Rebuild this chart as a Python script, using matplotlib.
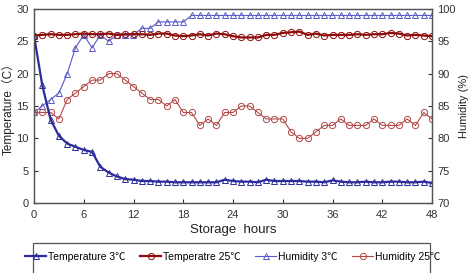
import matplotlib.pyplot as plt
from matplotlib.patches import Rectangle

plt.rcParams['font.family'] = ['Liberation Sans', 'Noto Sans CJK SC', 'DejaVu Sans']

HOURS = list(range(49))

TEMP_3 = [25.9, 18.2, 12.9, 10.4, 9.2, 8.7, 8.2, 7.9, 5.6, 4.7, 4.1, 3.7, 3.6, 3.4, 3.4,
          3.3, 3.3, 3.2, 3.2, 3.2, 3.2, 3.2, 3.2, 3.6, 3.4, 3.3, 3.3, 3.2, 3.6, 3.4, 3.4,
          3.4, 3.4, 3.3, 3.3, 3.2, 3.5, 3.3, 3.2, 3.2, 3.3, 3.2, 3.2, 3.3, 3.3, 3.2, 3.2,
          3.3, 3.1]
TEMP_25 = [25.9, 26.0, 26.1, 26.0, 26.0, 26.1, 26.2, 26.1, 26.1, 26.2, 26.0, 26.1, 26.1,
           26.1, 26.0, 26.2, 26.2, 25.9, 25.8, 25.9, 26.1, 25.9, 26.2, 26.1, 25.8, 25.6,
           25.6, 25.6, 26.0, 26.0, 26.3, 26.4, 26.5, 26.0, 26.2, 25.9, 26.0, 26.0, 26.0,
           26.1, 26.0, 26.1, 26.1, 26.3, 26.2, 25.9, 26.0, 25.9, 25.8]
HUM_3 = [84, 85, 86, 87, 90, 94, 96, 94, 96, 95, 96, 96, 96, 97, 97, 98, 98, 98, 98,
         99, 99, 99, 99, 99, 99, 99, 99, 99, 99, 99, 99, 99, 99, 99, 99, 99, 99, 99, 99,
         99, 99, 99, 99, 99, 99, 99, 99, 99, 99]
HUM_25 = [84, 84, 84, 83, 86, 87, 88, 89, 89, 90, 90, 89, 88, 87, 86, 86, 85, 86, 84,
          84, 82, 83, 82, 84, 84, 85, 85, 84, 83, 83, 83, 81, 80, 80, 81, 82, 82, 83, 82,
          82, 82, 83, 82, 82, 82, 83, 82, 84, 83]

fig = plt.figure(figsize=(4.69, 2.73), dpi=100)
ax = fig.add_axes([34 / 469, 1 - 203 / 273, (432 - 34) / 469, (203 - 9) / 273])
ax2 = ax.twinx()

ax2.plot(HOURS, HUM_3, color='#5a5ac8', lw=0.8, marker='^', ms=3.8, mfc='none',
         mew=0.7, label='Humidity 3℃')
ax2.plot(HOURS, HUM_25, color='#b34848', lw=0.8, marker='o', ms=4.5, mfc='none',
         mew=0.7, label='Humidity 25℃')
ax.plot(HOURS, TEMP_3, color='#2b2b9a', lw=1.6, marker='^', ms=3.8, mfc='none',
        mew=0.7, label='Temperature 3℃')
ax.plot(HOURS, TEMP_25, color='#8e0a0a', lw=1.6, marker='o', ms=4.5, mfc='none',
        mew=0.7, label='Temperatre 25℃')
ax.set_zorder(ax2.get_zorder() + 1)
ax.patch.set_visible(False)

ax.set_xlim(0, 48)
ax.set_ylim(0, 30)
ax2.set_ylim(70, 100)
ax.set_xticks(range(0, 49, 6))
ax.set_yticks(range(0, 31, 5))
ax2.set_yticks(range(70, 101, 5))

for a in (ax, ax2):
    a.tick_params(direction='in', labelsize=8, colors='#333333', length=3, width=0.8)
    for s in a.spines.values():
        s.set_color('#555555')
        s.set_linewidth(0.9)
ax.tick_params(axis='x', pad=5)
ax.tick_params(axis='y', pad=4)
ax2.tick_params(axis='y', pad=4)

ax.set_xlabel('Storage  hours', fontsize=9.5, color='#222222', labelpad=3)
ax.set_ylabel('Temperature（C）', fontsize=8.5, color='#222222', labelpad=1)
ax2.set_ylabel('Humidity (%)', fontsize=8, color='#222222', labelpad=2)

fig.patches.append(Rectangle((33 / 469, -0.02), (430 - 33) / 469, 1 - 243 / 273 + 0.02,
                             transform=fig.transFigure, fill=False,
                             edgecolor='#555555', lw=0.9))
h1, l1 = ax.get_legend_handles_labels()
h2, l2 = ax2.get_legend_handles_labels()
fig.legend(h1 + h2, l1 + l2, loc='center', bbox_to_anchor=(233 / 469, 1 - 257 / 273),
           ncol=4, frameon=False, fontsize=7.5, handlelength=2.0, handletextpad=0.2,
           columnspacing=1.4)

fig.savefig('out.png', dpi=100)
